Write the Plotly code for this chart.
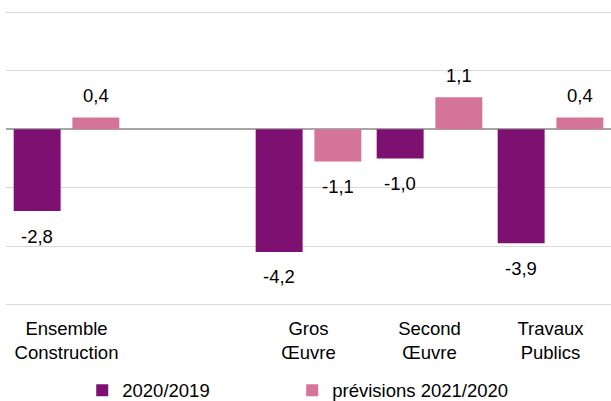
import plotly.graph_objects as go

# Categories (an empty slot sits between "Ensemble" and "Gros Œuvre")
categories = ["Ensemble<br>Construction", " ", "Gros<br>Œuvre", "Second<br>Œuvre", "Travaux<br>Publics"]
series_names = ["2020/2019", "prévisions 2021/2020"]
values_2020 = [-2.8, None, -4.2, -1.0, -3.9]
values_2021 = [0.4, None, -1.1, 1.1, 0.4]

colors = ["#7e1072", "#d37498"]
legend_widths = [165, 200]
FONT = "Liberation Sans, Arial, sans-serif"
FS = 18.5


def fr(v):
    return f"{v:.1f}".replace(".", ",")


fig = go.Figure()
for name, vals, color, lw in zip(series_names, [values_2020, values_2021], colors, legend_widths):
    fig.add_trace(
        go.Bar(
            x=categories,
            y=vals,
            name=name,
            legendwidth=lw,
            marker={"color": color, "line": {"width": 0}},
            hoverinfo="skip",
        )
    )

# data labels, offset from the bar ends like the source chart
annotations = []
for shift, vals in zip([-29.3, 29.3], [values_2020, values_2021]):
    for cat, v in zip(categories, vals):
        if v is None:
            continue
        annotations.append(
            dict(
                x=cat,
                y=v,
                text=fr(v),
                showarrow=False,
                xshift=shift,
                yshift=22 if v >= 0 else -25,
                yanchor="middle",
                font={"size": FS, "color": "#000000", "family": FONT},
            )
        )

fig.update_layout(
    width=611,
    height=401,
    margin={"l": 6, "r": 0, "t": 10.5, "b": 95, "autoexpand": False},
    paper_bgcolor="white",
    plot_bgcolor="white",
    barmode="group",
    bargap=0.03,
    bargroupgap=0.2,
    font={"family": FONT, "size": FS, "color": "#000000"},
    showlegend=True,
    legend={
        "orientation": "h",
        "x": 0.126,
        "xanchor": "left",
        "y": -0.287,
        "yanchor": "middle",
        "font": {"size": FS},
        "bgcolor": "rgba(0,0,0,0)",
    },
    annotations=annotations,
    xaxis={
        "type": "category",
        "automargin": False,
        "showgrid": False,
        "showline": False,
        "ticks": "",
        "ticklabelstandoff": 9,
        "tickfont": {"size": FS},
    },
    yaxis={
        "range": [-6.05, 4.05],
        "dtick": 2,
        "automargin": False,
        "showticklabels": False,
        "showgrid": True,
        "gridcolor": "#d9d9d9",
        "gridwidth": 1,
        "zeroline": True,
        "zerolinecolor": "#a6a6a6",
        "zerolinewidth": 2,
        "ticks": "",
    },
)

fig.write_html(
    "out.html",
    config={"displayModeBar": False},
    post_script="document.body.style.margin = '0';",
)
